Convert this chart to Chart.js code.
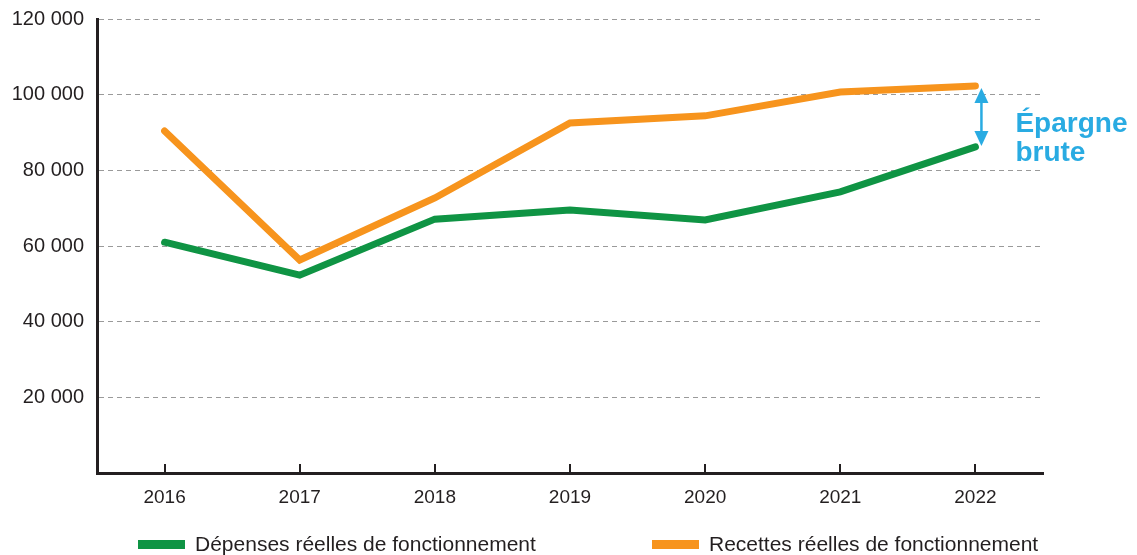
<!DOCTYPE html>
<html lang="fr">
<head>
<meta charset="utf-8">
<script src="https://cdn.jsdelivr.net/npm/chart.js@4.4.0/dist/chart.umd.min.js"></script>
<style>
  html, body { margin: 0; padding: 0; background: #fff; }
  #wrap { width: 1137px; height: 555px; position: relative; }
</style>
</head>
<body>
<div id="wrap"><canvas id="chart" width="1137" height="555"></canvas></div>
<script>
// Data
const years = ['2016', '2017', '2018', '2019', '2020', '2021', '2022'];
const depenses = [61000, 52300, 67100, 69500, 66900, 74300, 86200];
const recettes = [90400, 56300, 72700, 92500, 94400, 100700, 102300];
const seriesLabels = ['Dépenses réelles de fonctionnement', 'Recettes réelles de fonctionnement'];
const seriesColors = ['#0f9444', '#f7941d'];
const yMax = 120000;
const yStep = 20000;
const noteLines = ['Épargne', 'brute'];

const textColor = '#231f20';
const noteColor = '#29abe2';
const font = '"Liberation Sans", Arial, Helvetica, sans-serif';

function fmt(v) {
    if (v === 0) return '';
    return v.toString().replace(/\B(?=(\d{3})+(?!\d))/g, ' ');
}

// --- extra drawing: inner ticks, arrow, legend ---
const extras = {
    id: 'extras',
    afterDatasetsDraw(chart) {
        const { ctx, chartArea, scales: { x, y } } = chart;
        ctx.save();

        // small ticks pointing up from the x axis
        ctx.strokeStyle = textColor;
        ctx.lineWidth = 2;
        years.forEach((_, i) => {
            const px = Math.round(x.getPixelForValue(i));
            ctx.beginPath();
            ctx.moveTo(px, chartArea.bottom);
            ctx.lineTo(px, chartArea.bottom - 9);
            ctx.stroke();
        });

        // double arrow between the two 2022 values
        const last = years.length - 1;
        const ax = x.getPixelForValue(last) + 6;
        const yTop = y.getPixelForValue(recettes[last]) + 2;
        const yBot = y.getPixelForValue(depenses[last]) - 1;
        ctx.strokeStyle = noteColor;
        ctx.fillStyle = noteColor;
        ctx.lineWidth = 2.5;
        ctx.beginPath();
        ctx.moveTo(ax, yTop + 10);
        ctx.lineTo(ax, yBot - 10);
        ctx.stroke();
        ctx.beginPath();
        ctx.moveTo(ax, yTop);
        ctx.lineTo(ax - 7, yTop + 15);
        ctx.lineTo(ax + 7, yTop + 15);
        ctx.closePath();
        ctx.fill();
        ctx.beginPath();
        ctx.moveTo(ax, yBot);
        ctx.lineTo(ax - 7, yBot - 15);
        ctx.lineTo(ax + 7, yBot - 15);
        ctx.closePath();
        ctx.fill();

        // note text
        const mid = (yTop + yBot) / 2;
        ctx.font = 'bold 28px ' + font;
        ctx.textAlign = 'left';
        ctx.textBaseline = 'alphabetic';
        ctx.fillText(noteLines[0], ax + 34, mid + 15);
        ctx.fillText(noteLines[1], ax + 34, mid + 44);

        // legend
        const legendX = [chartArea.left + 41, chartArea.left + 555];
        const legendY = 544.5;
        ctx.font = '21px ' + font;
        ctx.textBaseline = 'middle';
        seriesLabels.forEach((lab, i) => {
            ctx.fillStyle = seriesColors[i];
            ctx.fillRect(legendX[i], legendY - 4.5, 47, 9);
            ctx.fillStyle = textColor;
            ctx.fillText(lab, legendX[i] + 57, legendY + 1);
        });
        ctx.restore();
    }
};

const ctx = document.getElementById('chart').getContext('2d');
new Chart(ctx, {
    type: 'line',
    data: {
        labels: years,
        datasets: [
            {
                label: seriesLabels[0],
                data: depenses,
                borderColor: seriesColors[0],
                backgroundColor: seriesColors[0],
                borderWidth: 7,
                borderCapStyle: 'round',
                pointRadius: 0,
                tension: 0
            },
            {
                label: seriesLabels[1],
                data: recettes,
                borderColor: seriesColors[1],
                backgroundColor: seriesColors[1],
                borderWidth: 7,
                borderCapStyle: 'round',
                pointRadius: 0,
                tension: 0
            }
        ]
    },
    options: {
        responsive: false,
        animation: false,
        layout: { padding: { top: 19, right: 94, bottom: 35, left: 0 } },
        plugins: {
            legend: { display: false },
            tooltip: { enabled: false }
        },
        scales: {
            x: {
                offset: true,
                grid: { display: false, drawTicks: false },
                border: { display: true, width: 3, color: textColor },
                ticks: { color: textColor, font: { size: 19, family: font }, padding: 13, maxRotation: 0, autoSkip: false },
                afterFit(scale) { scale.height = 47; }
            },
            y: {
                min: 0,
                max: yMax,
                grid: { color: '#9a9a9a', lineWidth: 1, drawTicks: false },
                border: { display: true, width: 3, color: textColor, dash: [5, 4] },
                ticks: {
                    stepSize: yStep,
                    color: textColor,
                    font: { size: 20, family: font },
                    padding: 13,
                    callback: (v) => fmt(v)
                },
                afterFit(scale) {
                    scale.width = 97;
                    scale.paddingTop = 0;
                }
            }
        }
    },
    plugins: [extras]
});
</script>
</body>
</html>
